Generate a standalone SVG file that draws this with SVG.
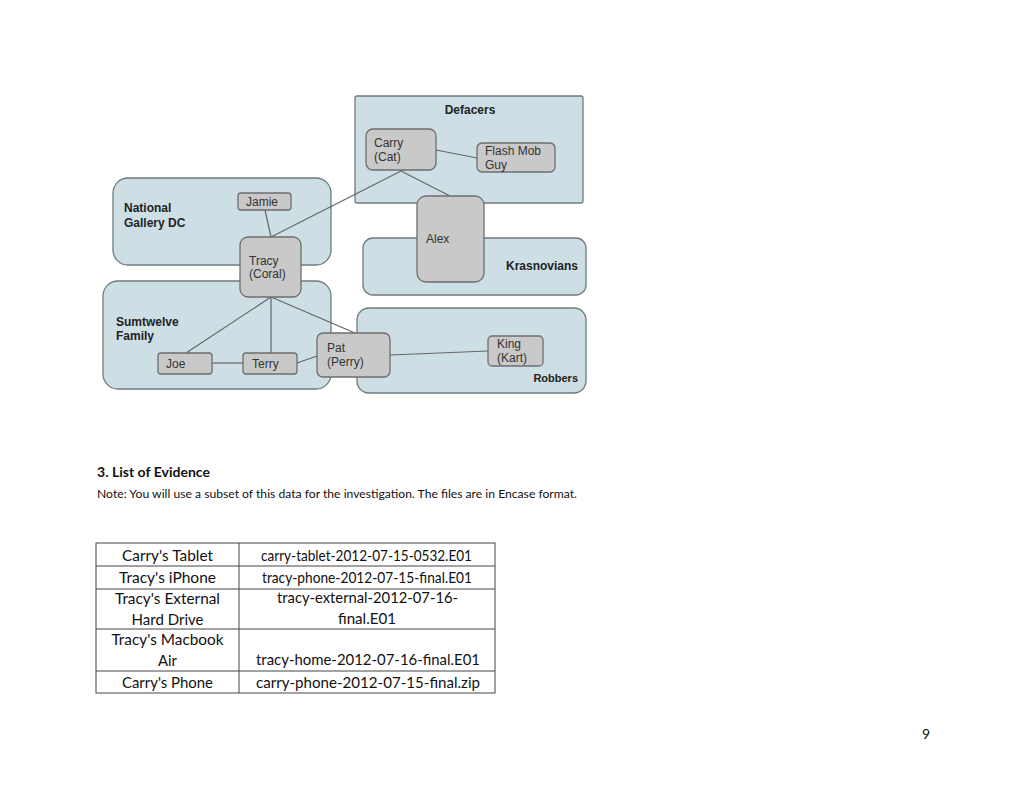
<svg xmlns="http://www.w3.org/2000/svg" width="1024" height="791" viewBox="0 0 1024 791">
<style>
.grp{fill:#cddfe5;stroke:#6f7a7e;stroke-width:1.3}
.nd{fill:#c9c9c9;stroke:#6e6e6e;stroke-width:1.3}
.gl{font-family:"Liberation Sans",Arial,sans-serif;font-weight:bold;font-size:12px;fill:#222}
.nl{font-family:"Liberation Sans",Arial,sans-serif;font-size:12px;fill:#333}
.cn line{stroke:#666;stroke-width:1.2}
.tx{font-family:Lato,"Open Sans",sans-serif;fill:#111}
.tb{font-family:Lato,"Open Sans",sans-serif;font-size:16px;fill:#111;text-anchor:middle}
.tl{stroke:#444;stroke-width:1}
</style>
<rect width="1024" height="791" fill="#fff"/>

<g id="groups">
<g id="g-national"><rect class="grp" x="113" y="178" width="218" height="87" rx="15"/><text class="gl" x="124" y="212">National</text><text class="gl" x="124" y="227">Gallery DC</text></g>
<g id="g-sumtwelve"><rect class="grp" x="103" y="281" width="228" height="108" rx="15"/><text class="gl" x="116" y="326">Sumtwelve</text><text class="gl" x="116" y="340">Family</text></g>
<g id="g-defacers"><rect class="grp" x="355" y="96" width="228" height="107" rx="2"/><text class="gl" x="470" y="114" text-anchor="middle">Defacers</text></g>
<g id="g-krasnovians"><rect class="grp" x="363" y="238" width="223" height="57" rx="10"/><text class="gl" x="578" y="270" text-anchor="end">Krasnovians</text></g>
<g id="g-robbers"><rect class="grp" x="357" y="308" width="229" height="85" rx="12"/><text class="gl" x="578" y="382" text-anchor="end" style="font-size:11px">Robbers</text></g>
</g>

<g id="connectors" class="cn">
<line x1="265" y1="210" x2="271" y2="237"/>
<line x1="271" y1="237" x2="401" y2="171"/>
<line x1="401" y1="171" x2="450" y2="196"/>
<line x1="436" y1="150" x2="477" y2="158"/>
<line x1="271" y1="297" x2="186" y2="353"/>
<line x1="271" y1="297" x2="271" y2="353"/>
<line x1="271" y1="297" x2="355" y2="333"/>
<line x1="212" y1="363" x2="243" y2="363"/>
<line x1="297" y1="363" x2="317" y2="356"/>
<line x1="390" y1="355" x2="488" y2="351"/>
</g>

<g id="n-jamie"><rect class="nd" x="238" y="193" width="53" height="17" rx="3"/><text class="nl" x="246" y="206">Jamie</text></g>
<g id="n-tracy"><rect class="nd" x="240" y="237" width="61" height="60" rx="8"/><text class="nl" x="249" y="265">Tracy</text><text class="nl" x="249" y="278">(Coral)</text></g>
<g id="n-carry"><rect class="nd" x="366" y="129" width="70" height="41" rx="7"/><text class="nl" x="374" y="147">Carry</text><text class="nl" x="374" y="161">(Cat)</text></g>
<g id="n-flashmob"><rect class="nd" x="477" y="143" width="78" height="29" rx="5"/><text class="nl" x="485" y="155">Flash Mob</text><text class="nl" x="485" y="169">Guy</text></g>
<g id="n-alex"><rect class="nd" x="417" y="196" width="67" height="86" rx="9"/><text class="nl" x="426" y="243">Alex</text></g>
<g id="n-joe"><rect class="nd" x="158" y="353" width="54" height="21" rx="3"/><text class="nl" x="166" y="368">Joe</text></g>
<g id="n-terry"><rect class="nd" x="243" y="353" width="54" height="21" rx="3"/><text class="nl" x="252" y="368">Terry</text></g>
<g id="n-pat"><rect class="nd" x="317" y="333" width="73" height="44" rx="6"/><text class="nl" x="327" y="352">Pat</text><text class="nl" x="327" y="366">(Perry)</text></g>
<g id="n-king"><rect class="nd" x="488" y="336" width="55" height="30" rx="4"/><text class="nl" x="497" y="348">King</text><text class="nl" x="497" y="362">(Kart)</text></g>

<g id="evidence">
<text class="tx" x="97" y="477" font-size="14" font-weight="bold" textLength="113" lengthAdjust="spacingAndGlyphs">3.  List of Evidence</text>
<text class="tx" x="97" y="498" font-size="11.5" textLength="480" lengthAdjust="spacingAndGlyphs">Note: You will use a subset of this data for the investigation.   The files are in Encase format.</text>

<rect x="96" y="543" width="399" height="150" fill="none" stroke="#444" stroke-width="1"/>
<line class="tl" x1="239" y1="543" x2="239" y2="693"/>
<line class="tl" x1="96" y1="566" x2="495" y2="566"/>
<line class="tl" x1="96" y1="589" x2="495" y2="589"/>
<line class="tl" x1="96" y1="629" x2="495" y2="629"/>
<line class="tl" x1="96" y1="671" x2="495" y2="671"/>

<text class="tb" x="167.5" y="561" textLength="91" lengthAdjust="spacingAndGlyphs">Carry's Tablet</text>
<text class="tb" x="167.5" y="583" textLength="97" lengthAdjust="spacingAndGlyphs">Tracy's iPhone</text>
<text class="tb" x="167.5" y="604" textLength="105" lengthAdjust="spacingAndGlyphs">Tracy's External</text>
<text class="tb" x="167.5" y="625" textLength="72" lengthAdjust="spacingAndGlyphs">Hard Drive</text>
<text class="tb" x="167.5" y="645" textLength="112" lengthAdjust="spacingAndGlyphs">Tracy's Macbook</text>
<text class="tb" x="167.5" y="666" textLength="19" lengthAdjust="spacingAndGlyphs">Air</text>
<text class="tb" x="167.5" y="688" textLength="91" lengthAdjust="spacingAndGlyphs">Carry's Phone</text>

<text class="tb" x="366.5" y="561" textLength="211" lengthAdjust="spacingAndGlyphs">carry-tablet-2012-07-15-0532.E01</text>
<text class="tb" x="367" y="583" textLength="210" lengthAdjust="spacingAndGlyphs">tracy-phone-2012-07-15-final.E01</text>
<text class="tb" x="367.5" y="603" textLength="181" lengthAdjust="spacingAndGlyphs">tracy-external-2012-07-16-</text>
<text class="tb" x="367" y="624" textLength="58" lengthAdjust="spacingAndGlyphs">final.E01</text>
<text class="tb" x="368" y="665" textLength="224" lengthAdjust="spacingAndGlyphs">tracy-home-2012-07-16-final.E01</text>
<text class="tb" x="368" y="688" textLength="224" lengthAdjust="spacingAndGlyphs">carry-phone-2012-07-15-final.zip</text>
</g>

<text class="tx" x="926" y="739" font-size="14" text-anchor="middle">9</text>
</svg>
